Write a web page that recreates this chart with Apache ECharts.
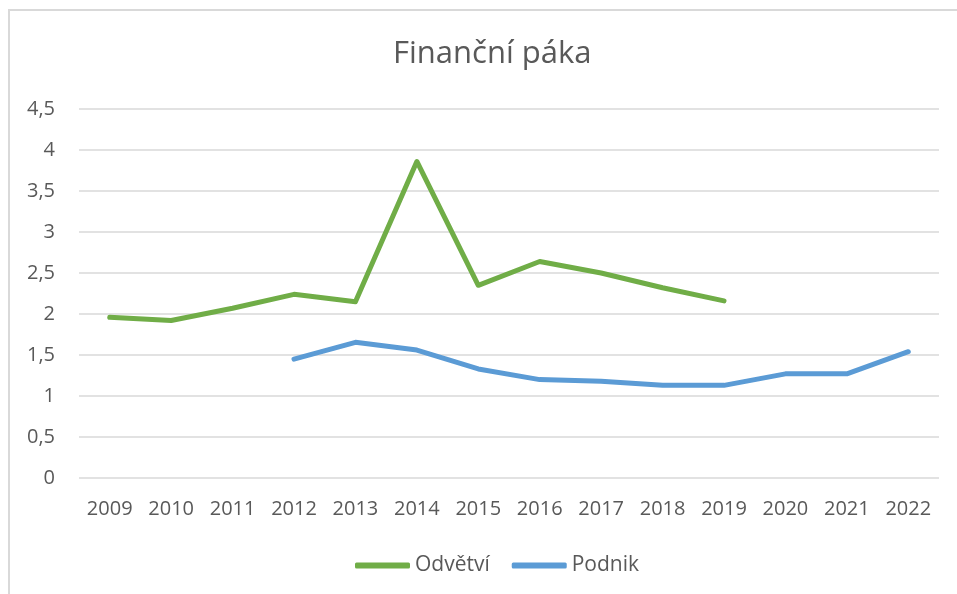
<!DOCTYPE html>
<html>
<head>
<meta charset="utf-8">
<script src="https://cdn.jsdelivr.net/npm/echarts@6/dist/echarts.min.js"></script>
<style>
  html, body { margin: 0; padding: 0; background: #fff; }
  #frame { position: absolute; left: 8px; top: 9px; width: 949px; height: 585px;
           border-left: 2px solid #d9d9d9; border-top: 2px solid #d9d9d9; box-sizing: border-box; }
  #chart { position: absolute; left: 0; top: 0; width: 957px; height: 594px; }
</style>
</head>
<body>
<div id="frame"></div>
<div id="chart"></div>
<script>
var years = ["2009","2010","2011","2012","2013","2014","2015","2016","2017","2018","2019","2020","2021","2022"];
var odvetvi = [1.96, 1.92, 2.07, 2.24, 2.15, 3.86, 2.35, 2.64, 2.50, 2.32, 2.16, null, null, null];
var podnik = [null, null, null, 1.45, 1.655, 1.56, 1.33, 1.20, 1.18, 1.13, 1.13, 1.27, 1.27, 1.54];

var textColor = "#595959";
var font = "Open Sans";

var chart = echarts.init(document.getElementById("chart"));
chart.setOption({
  animation: false,
  title: {
    text: "Finanční páka",
    left: 388,
    top: 34,
    textStyle: { color: textColor, fontFamily: font, fontSize: 31, fontWeight: "normal" }
  },
  grid: { left: 79, right: 18, top: 109, bottom: 116 },
  legend: {
    top: 550,
    left: 350,
    icon: "roundRect",
    itemWidth: 55,
    itemHeight: 6,
    itemGap: 22,
    textStyle: { color: textColor, fontFamily: font, fontSize: 21 },
    data: ["Odvětví", "Podnik"]
  },
  xAxis: {
    type: "category",
    data: years,
    boundaryGap: true,
    axisLine: { show: false },
    axisTick: { show: false },
    axisLabel: { color: textColor, fontFamily: font, fontSize: 20, margin: 21 }
  },
  yAxis: {
    type: "value",
    min: 0,
    max: 4.5,
    interval: 0.5,
    axisLine: { show: false },
    axisTick: { show: false },
    splitLine: { lineStyle: { color: "#d9d9d9", width: 1.5 } },
    axisLabel: {
      color: textColor, fontFamily: font, fontSize: 20, margin: 24,
      formatter: function (v) { return String(v).replace(".", ","); }
    }
  },
  series: [
    {
      name: "Odvětví",
      type: "line",
      data: odvetvi,
      symbol: "none",
      color: "#70ad47",
      lineStyle: { width: 5, color: "#70ad47", cap: "round", join: "round" }
    },
    {
      name: "Podnik",
      type: "line",
      data: podnik,
      symbol: "none",
      color: "#5b9bd5",
      lineStyle: { width: 5, color: "#5b9bd5", cap: "round", join: "round" }
    }
  ]
});
</script>
</body>
</html>
